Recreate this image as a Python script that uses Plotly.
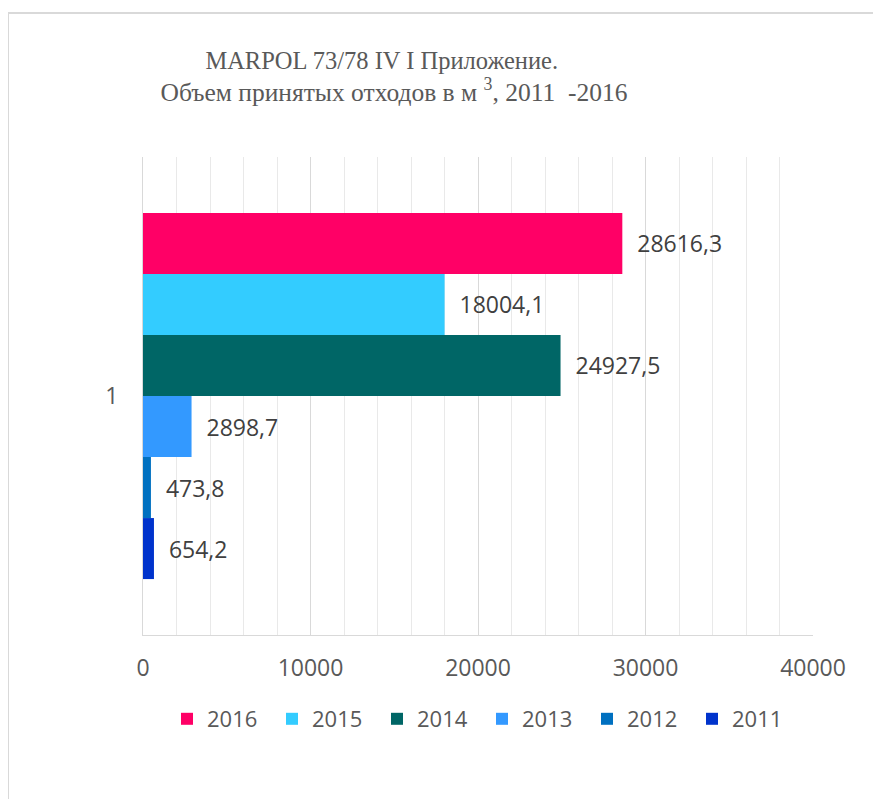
import plotly.graph_objects as go

years = ["2011", "2012", "2013", "2014", "2015", "2016"]
values = [654.2, 473.8, 2898.7, 24927.5, 18004.1, 28616.3]
colors = ["#0033CC", "#0070C0", "#3399FF", "#006666", "#33CCFF", "#FF0066"]
category = ["1"]
x_ticks = [0, 10000, 20000, 30000, 40000]

# page has an 8px body margin, so figure coords = page coords - 8
OFF = 8
W, H = 881 - OFF, 799 - OFF
L, T = 143 - OFF, 157 - OFF
R = W - (813 - OFF)
B = H - (635 - OFF)
pw, ph = W - L - R, H - T - B

fig = go.Figure()
for yr, v, c in zip(years, values, colors):
    fig.add_trace(go.Bar(
        y=category, x=[v], name=yr, orientation="h",
        marker=dict(color=c, line=dict(width=0)),
        text=["\u00a0\u00a0" + f"{v:.1f}".replace(".", ",")],
        textposition="outside", cliponaxis=False,
        textfont=dict(family="Open Sans", size=23, color="#404040"),
    ))

def px_x(p):
    return (p - OFF - L) / pw

def px_y(p):
    return (H - B - (p - OFF)) / ph

fig.update_layout(
    width=W, height=H,
    margin=dict(l=L, r=R, t=T, b=B),
    paper_bgcolor="white", plot_bgcolor="white",
    barmode="group", bargap=0.234, bargroupgap=0,
    title=dict(
        text=("MARPOL 73/78 IV I Приложение.\u00a0\u00a0\u00a0\u00a0<br>"
              "<span style=\"font-size:25.5px\">Объем принятых отходов в м <sup>3</sup>, 2011 \u00a0-2016</span>"),
        font=dict(family="Liberation Serif", size=24.5, color="#595959"),
        x=(394 - OFF) / W, xanchor="center", xref="container",
        y=1 - 61 / H, yanchor="top", yref="container",
    ),
    xaxis=dict(
        range=[0, 40000], tickvals=x_ticks, ticktext=[str(t) for t in x_ticks],
        showgrid=True, gridcolor="#D9D9D9", gridwidth=1,
        minor=dict(dtick=2000, showgrid=True, gridcolor="#E9E9E9", gridwidth=1),
        showline=True, linecolor="#D9D9D9", linewidth=1,
        zeroline=False, ticks="", ticklabelstandoff=12,
        tickfont=dict(family="Open Sans", size=23, color="#595959"),
        fixedrange=True,
    ),
    yaxis=dict(
        type="category", showgrid=False, showline=True, linecolor="#D9D9D9",
        linewidth=1, ticks="", ticklabelstandoff=19,
        tickfont=dict(family="Open Sans", size=23, color="#595959"),
    ),
    legend=dict(
        orientation="h", traceorder="reversed",
        x=159 / W, xref="container", xanchor="left",
        y=1 - 690 / H, yref="container", yanchor="top",
        font=dict(family="Open Sans", size=22, color="#595959"),
        entrywidth=60, entrywidthmode="pixels",
    ),
    showlegend=True,
    shapes=[dict(
        type="rect", xref="paper", yref="paper",
        x0=px_x(8), x1=px_x(900), y0=px_y(820), y1=px_y(13),
        line=dict(color="#D9D9D9", width=2), fillcolor="rgba(0,0,0,0)",
        layer="below",
    )],
)

fig.write_html("out.html")
